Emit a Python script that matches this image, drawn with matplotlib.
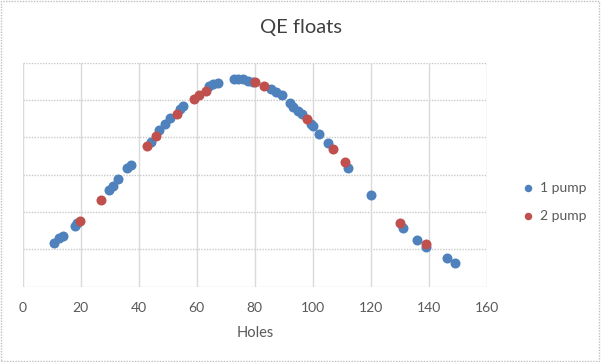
import matplotlib
matplotlib.use("Agg")
import matplotlib.pyplot as plt
from matplotlib.patches import Rectangle

plt.rcParams['font.family'] = ['Lato', 'DejaVu Sans']

one_pump_x = [10.8, 12.6, 13.8, 18.0, 18.8, 29.9, 31.0, 32.9, 36.1, 37.2, 44.1, 47.1, 48.9,
              50.8, 54.2, 55.2, 64.3, 65.7, 67.3, 73.0, 74.3, 76.1, 77.8, 79.5, 85.5, 87.3,
              89.3, 92.2, 93.3, 95.0, 96.2, 99.3, 100.0, 102.3, 105.4, 112.2, 120.1, 131.2,
              136.1, 139.1, 146.4, 149.2]
one_pump_y = [1.18, 1.30, 1.36, 1.63, 1.70, 2.59, 2.70, 2.88, 3.17, 3.27, 3.88, 4.20, 4.36,
              4.52, 4.76, 4.84, 5.38, 5.42, 5.46, 5.56, 5.56, 5.55, 5.52, 5.49, 5.29, 5.21,
              5.12, 4.91, 4.82, 4.71, 4.62, 4.36, 4.29, 4.10, 3.84, 3.18, 2.45, 1.58,
              1.25, 1.06, 0.76, 0.63]
two_pump_x = [19.9, 26.9, 42.9, 45.9, 53.1, 59.1, 60.9, 63.1, 80.1, 83.2, 98.1, 107.1, 111.1,
              130.1, 139.1]
two_pump_y = [1.76, 2.31, 3.76, 4.04, 4.62, 5.02, 5.14, 5.24, 5.47, 5.38, 4.48, 3.70, 3.33,
              1.70, 1.14]
x_ticks = [0, 20, 40, 60, 80, 100, 120, 140, 160]

fig = plt.figure(figsize=(6.01, 3.62), dpi=100)
ax = fig.add_axes([0.0378, 0.208, 0.7722, 0.619])

ax.scatter(one_pump_x, one_pump_y, s=52, color='#4F81BD', label='1 pump', zorder=3, linewidths=0)
ax.scatter(two_pump_x, two_pump_y, s=52, color='#C0504D', label='2 pump', zorder=4, linewidths=0)

ax.set_xlim(0, 160)
ax.set_ylim(0, 6)
ax.set_xticks(x_ticks)
ax.set_yticks(range(0, 7))
ax.set_yticklabels([])
for y in range(0, 7):
    ax.axhline(y, color='#C8C8C8', lw=1.0, ls=(0, (1, 1)), zorder=1)
for x in x_ticks:
    ax.axvline(x, color='#DADADA', lw=1.0, zorder=1)
for s in ax.spines.values():
    s.set_visible(False)
ax.tick_params(axis='both', length=0, labelsize=10, labelcolor='#595959', pad=11)
ax.set_xlabel('Holes', fontsize=10.5, color='#595959', labelpad=9)
ax.set_title('QE floats', fontsize=14.5, color='#404040', pad=21, x=0.6)

leg = fig.legend(loc='center left', bbox_to_anchor=(0.847, 0.442), frameon=False,
                 fontsize=10, handletextpad=0.3, labelspacing=1.15, markerscale=0.75,
                 handlelength=1.0)
for t in leg.get_texts():
    t.set_color('#595959')

fig.patches.append(Rectangle((0.002, 0.003), 0.995, 0.994, transform=fig.transFigure,
                             fill=False, edgecolor='#BFBFBF', lw=1, ls=(0, (1, 1))))

fig.savefig('out.png', dpi=100)
